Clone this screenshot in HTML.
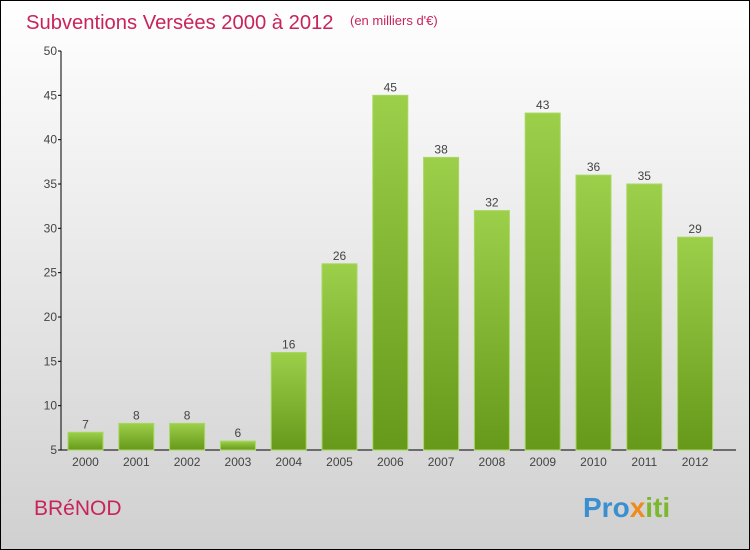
<!DOCTYPE html>
<html><head><meta charset="utf-8"><style>
body{margin:0;width:750px;height:550px;overflow:hidden}
svg{display:block}
text{font-family:"Liberation Sans",sans-serif}
</style></head><body>
<svg width="750" height="550" id="chart">
<defs>
<linearGradient id="bg" x1="0" y1="0" x2="0" y2="1"><stop offset="0" stop-color="#ffffff"/><stop offset="1" stop-color="#d0d0d0"/></linearGradient>
<linearGradient id="bar" x1="0" y1="0" x2="0" y2="1"><stop offset="0" stop-color="#9ccf4a"/><stop offset="1" stop-color="#66991a"/></linearGradient>
</defs>
<rect x="0.5" y="0.5" width="749" height="549" fill="url(#bg)" stroke="#000"/>
<text x="26" y="29" font-size="20.2" fill="#c8245a">Subventions Versées 2000 à 2012</text>
<text x="350" y="25" font-size="13" fill="#c8245a">(en milliers d'€)</text>
<text x="34" y="515" font-size="21" fill="#c8245a">BRéNOD</text>
<text x="583" y="517" font-size="28" font-weight="bold" fill="#3a8fd0">Pro<tspan fill="#f08a1a">x</tspan><tspan fill="#7cb82f">iti</tspan></text>
<g id="axes"></g><g id="bars"></g>
</svg>
<script>
const years=["2000","2001","2002","2003","2004","2005","2006","2007","2008","2009","2010","2011","2012"];
const values=[7,8,8,6,16,26,45,38,32,43,36,35,29];
const yTicks=[5,10,15,20,25,30,35,40,45,50];
const ns="http://www.w3.org/2000/svg";
const y0=450,y1=51,vmin=5,vmax=50;
const y=v=>y0-(v-vmin)*(y0-y1)/(vmax-vmin);
const x=i=>85.5+i*50.8;
function mk(t,a,p){const e=document.createElementNS(ns,t);for(const k in a)e.setAttribute(k,a[k]);p.appendChild(e);return e;}
const ax=document.getElementById('axes'),bg=document.getElementById('bars');
let l=mk('line',{x1:61,y1:y1,x2:61,y2:y0,stroke:'#000'},ax);


l=mk('line',{x1:61,y1:y0,x2:736,y2:y0,stroke:'#000'},ax);


yTicks.forEach(v=>{
 const t=mk('line',{x1:58,x2:61,y1:y(v),y2:y(v),stroke:'#000'},ax);
 
 
 const tx=mk('text',{x:57,y:y(v)+4,'font-size':12,'text-anchor':'end',fill:'#444'},ax);
 tx.textContent=v;
 
 
});
years.forEach((yr,i)=>{
 const r=mk('rect',{x:x(i)-17.5,y:y(values[i]),width:35,height:y0-y(values[i]),fill:'url(#bar)',stroke:'#a8d860','stroke-width':1},bg);
 
 
 const vt=mk('text',{x:x(i),y:y(values[i])-4,'font-size':12,'text-anchor':'middle',fill:'#444'},bg);
 vt.textContent=values[i];
 
 
 const xt=mk('text',{x:x(i),y:466,'font-size':12,'text-anchor':'middle',fill:'#444'},bg);
 xt.textContent=yr;
 
 
});
</script>
</body></html>
